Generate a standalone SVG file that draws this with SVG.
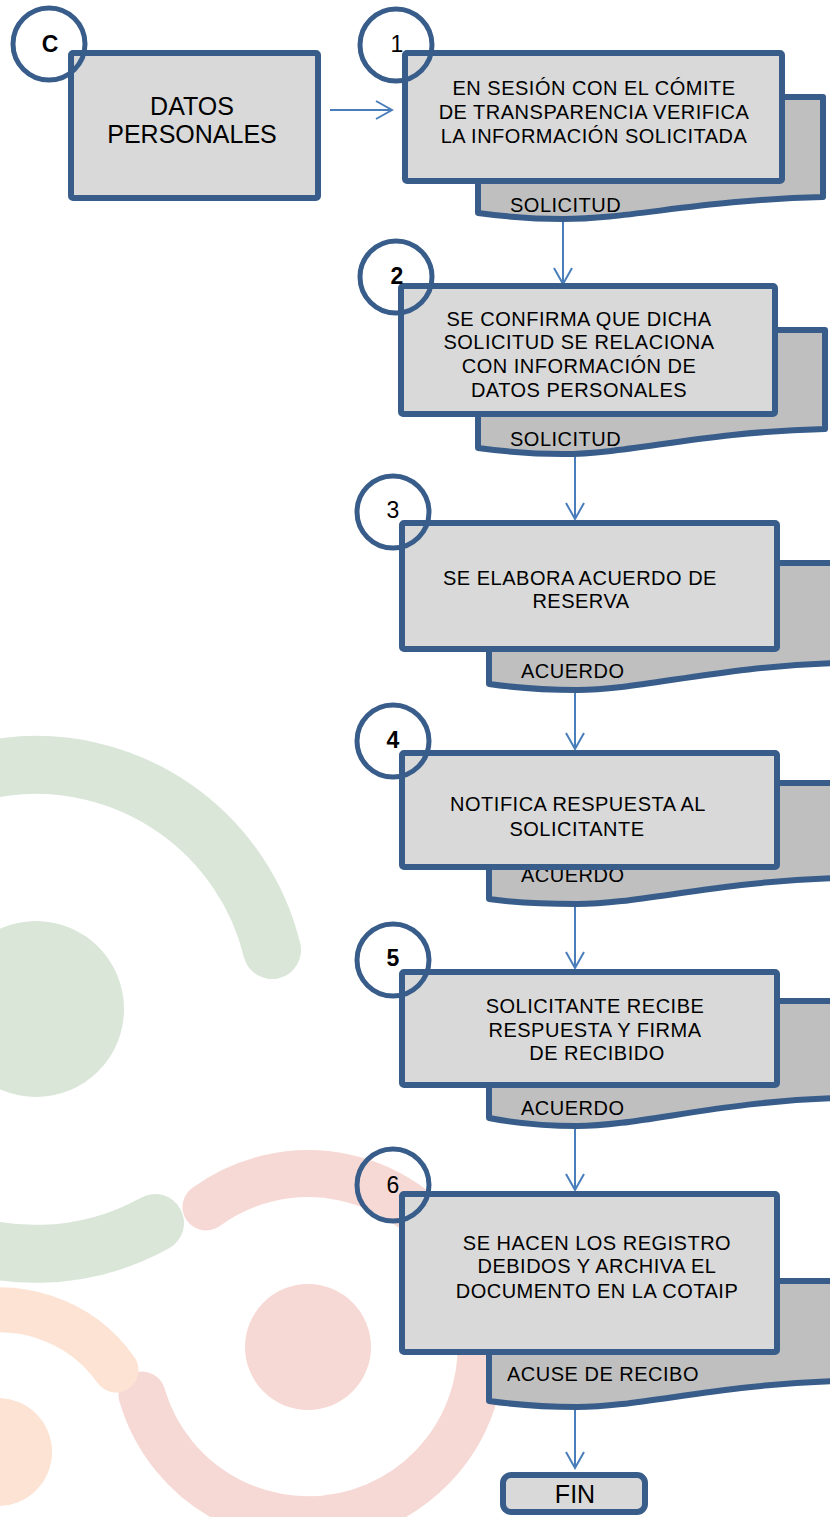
<svg xmlns="http://www.w3.org/2000/svg" width="830" height="1517" viewBox="0 0 830 1517">
<style>
.bg{fill:none;stroke-linecap:round}
.box{fill:#d9d9d9;stroke:#385d8a;stroke-width:6;stroke-linejoin:round}
.doc{fill:#bfbfbf;stroke:#385d8a;stroke-width:6;stroke-linejoin:round}
.num{fill:none;stroke:#385d8a;stroke-width:5}
.t{font-family:"Liberation Sans",Arial,sans-serif;font-size:20px;fill:#000;letter-spacing:0.5px}
.c{text-anchor:middle}
.big{font-size:25px;letter-spacing:0}
.n{font-size:23px;letter-spacing:0}
.b{font-weight:bold}
.conn{stroke:#4a7ebb;stroke-width:2;fill:none}
</style>
<defs>
<marker id="arr" viewBox="0 0 20 20" refX="18" refY="10" markerWidth="20" markerHeight="20" markerUnits="userSpaceOnUse" orient="auto">
<path d="M2,1 L18,10 L2,19" fill="none" stroke="#4a7ebb" stroke-width="2"/>
</marker>
</defs>
<rect width="830" height="1517" fill="#fff"/>
<g id="background">
<path class="bg" d="M -207 1009 A 243 243 0 0 1 272 950" stroke="#d9e6d8" stroke-width="58"/>
<path class="bg" d="M 155 1223 A 245 245 0 0 1 -209 1009" stroke="#d9e6d8" stroke-width="58"/>
<circle cx="36" cy="1009" r="88" fill="#d9e6d8"/>
<path class="bg" d="M 206 1207 A 173 173 0 1 1 142 1395" stroke="#f6d9d4" stroke-width="47"/>
<circle cx="308" cy="1347" r="63" fill="#f6d9d4"/>
<path class="bg" d="M -142 1452 A 142 142 0 0 1 116 1370" stroke="#fce3d4" stroke-width="45"/>
<circle cx="-2" cy="1452" r="54" fill="#fce3d4"/>
</g>
<g id="connectors">
<line class="conn" x1="330" y1="110" x2="392" y2="110" marker-end="url(#arr)"/>
<line class="conn" x1="563" y1="220" x2="563" y2="284" marker-end="url(#arr)"/>
<line class="conn" x1="575" y1="455" x2="575" y2="519" marker-end="url(#arr)"/>
<line class="conn" x1="575" y1="692" x2="575" y2="749" marker-end="url(#arr)"/>
<line class="conn" x1="575" y1="906" x2="575" y2="968" marker-end="url(#arr)"/>
<line class="conn" x1="575" y1="1128" x2="575" y2="1190" marker-end="url(#arr)"/>
<line class="conn" x1="575" y1="1408" x2="575" y2="1468" marker-end="url(#arr)"/>
</g>
<g id="nodeC">
<rect class="box" x="71" y="53" width="247" height="145" rx="2"/>
<circle class="num" cx="49" cy="44" r="36"/>
<text class="t n b c" x="50" y="52">C</text>
<text class="t big c" x="192" y="115">DATOS</text>
<text class="t big c" x="192" y="143">PERSONALES</text>
</g>
<g id="node1">
<path class="doc" d="M 478 97 H 823 V 197 C 700 200, 630 219, 563 219 C 525 219, 500 216, 478 213 Z"/>
<text class="t" x="510" y="212">SOLICITUD</text>
<rect class="box" x="405" y="53" width="377" height="128" rx="2"/>
<circle class="num" cx="396" cy="45" r="36"/>
<text class="t n c" x="397" y="52">1</text>
<text class="t c" x="594" y="95">EN SESIÓN CON EL CÓMITE</text>
<text class="t c" x="594" y="119">DE TRANSPARENCIA VERIFICA</text>
<text class="t c" x="594" y="143">LA INFORMACIÓN SOLICITADA</text>
</g>
<g id="node2">
<path class="doc" d="M 478 330 H 825 V 429 C 700 432, 630 454, 563 454 C 525 454, 500 451, 478 448 Z"/>
<text class="t" x="510" y="446">SOLICITUD</text>
<rect class="box" x="401" y="286" width="374" height="128" rx="2"/>
<circle class="num" cx="396" cy="277" r="36"/>
<text class="t n b c" x="397" y="284">2</text>
<text class="t c" x="579" y="326">SE CONFIRMA QUE DICHA</text>
<text class="t c" x="579" y="349">SOLICITUD SE RELACIONA</text>
<text class="t c" x="579" y="373">CON INFORMACIÓN DE</text>
<text class="t c" x="579" y="397">DATOS PERSONALES</text>
</g>
<g id="node3">
<path class="doc" d="M 489 563 H 840 V 663 C 720 666, 640 690, 577 690 C 535 690, 510 687, 489 684 Z"/>
<text class="t" x="521" y="678">ACUERDO</text>
<rect class="box" x="402" y="523" width="375" height="126" rx="2"/>
<circle class="num" cx="393" cy="512" r="36"/>
<text class="t n c" x="393" y="518">3</text>
<text class="t c" x="580" y="585">SE ELABORA ACUERDO DE</text>
<text class="t c" x="581" y="608">RESERVA</text>
</g>
<g id="node4">
<path class="doc" d="M 489 783 H 840 V 878 C 720 881, 640 904, 577 904 C 535 904, 510 902, 489 899 Z"/>
<text class="t" x="521" y="882">ACUERDO</text>
<rect class="box" x="402" y="753" width="375" height="114" rx="2"/>
<circle class="num" cx="393" cy="741" r="36"/>
<text class="t n b c" x="393" y="748">4</text>
<text class="t c" x="578" y="811">NOTIFICA RESPUESTA AL</text>
<text class="t c" x="577" y="836">SOLICITANTE</text>
</g>
<g id="node5">
<path class="doc" d="M 489 1001 H 840 V 1098 C 720 1101, 640 1126, 577 1126 C 535 1126, 510 1122, 489 1118 Z"/>
<text class="t" x="521" y="1115">ACUERDO</text>
<rect class="box" x="402" y="972" width="375" height="113" rx="2"/>
<circle class="num" cx="393" cy="960" r="36"/>
<text class="t n b c" x="393" y="966">5</text>
<text class="t c" x="595" y="1013">SOLICITANTE RECIBE</text>
<text class="t c" x="595" y="1037">RESPUESTA Y FIRMA</text>
<text class="t c" x="597" y="1060">DE RECIBIDO</text>
</g>
<g id="node6">
<path class="doc" d="M 489 1281 H 840 V 1381 C 720 1384, 640 1407, 577 1407 C 535 1407, 510 1404, 489 1401 Z"/>
<text class="t" x="507" y="1381">ACUSE DE RECIBO</text>
<rect class="box" x="402" y="1194" width="375" height="158" rx="2"/>
<circle class="num" cx="393" cy="1185" r="36"/>
<text class="t n c" x="393" y="1193">6</text>
<text class="t c" x="597" y="1250">SE HACEN LOS REGISTRO</text>
<text class="t c" x="597" y="1273">DEBIDOS Y ARCHIVA EL</text>
<text class="t c" x="597" y="1298">DOCUMENTO EN LA COTAIP</text>
</g>
<g id="fin">
<rect class="box" x="503" y="1475" width="142" height="37" rx="8"/>
<text class="t big c" x="575" y="1503">FIN</text>
</g>
</svg>
